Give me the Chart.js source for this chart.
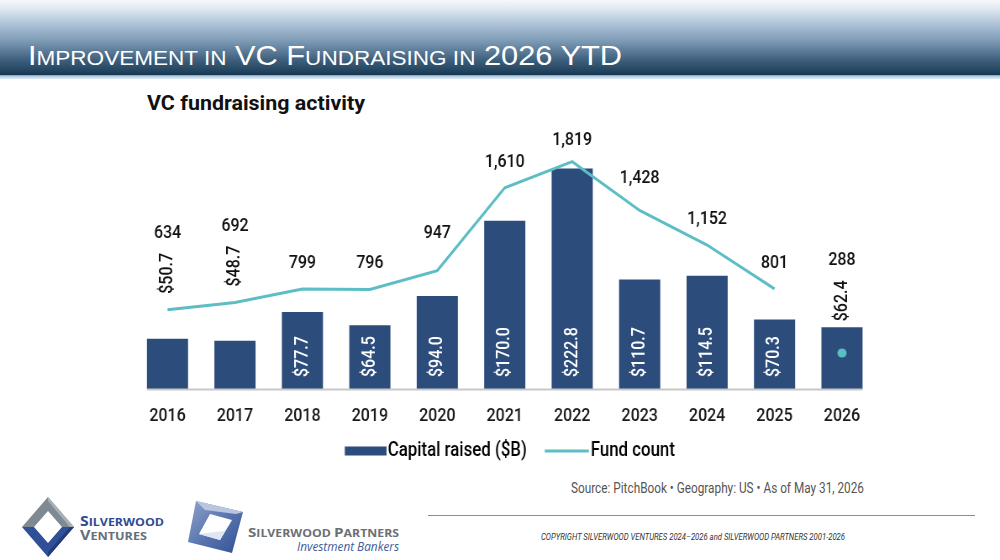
<!DOCTYPE html>
<html>
<head>
<meta charset="utf-8">
<script src="https://cdn.jsdelivr.net/npm/chart.js@4.4.1/dist/chart.umd.min.js"></script>
<style>
html,body{margin:0;padding:0;background:#fff;}
#wrap{position:relative;width:1000px;height:560px;overflow:hidden;background:#fff;}
#bg{position:absolute;left:0;top:0;}
#c{position:absolute;left:0;top:0;width:1190px;height:560px;transform:scaleX(0.840336);transform-origin:0 0;}
</style>
</head>
<body>
<div id="wrap">
<svg id="bg" width="1000" height="560" xmlns="http://www.w3.org/2000/svg">
  <defs>
    <linearGradient id="hdr" x1="0" y1="0" x2="0" y2="1">
      <stop offset="0" stop-color="#f6f8fb"/>
      <stop offset="0.12" stop-color="#e0e8f0"/>
      <stop offset="0.3" stop-color="#b3c7db"/>
      <stop offset="0.55" stop-color="#7e9bb6"/>
      <stop offset="0.8" stop-color="#41627f"/>
      <stop offset="1" stop-color="#1b3c56"/>
    </linearGradient>
    <linearGradient id="strip" x1="0" y1="0" x2="0" y2="1">
      <stop offset="0" stop-color="#9dbfdc"/>
      <stop offset="1" stop-color="#e6f0f8"/>
    </linearGradient>
    <linearGradient id="sp" x1="0" y1="0" x2="1" y2="1">
      <stop offset="0" stop-color="#8fa3cc"/>
      <stop offset="0.5" stop-color="#5a76b0"/>
      <stop offset="1" stop-color="#2f4f92"/>
    </linearGradient>
  </defs>
  <rect x="0" y="0" width="1000" height="74" fill="url(#hdr)"/>
  <rect x="0" y="74" width="1000" height="1.5" fill="#183852"/>
  <rect x="0" y="75.5" width="1000" height="3.5" fill="url(#strip)"/>
  <text x="28" y="64.5" fill="#ffffff" font-family="'Liberation Sans', Arial, sans-serif" textLength="594" lengthAdjust="spacingAndGlyphs"><tspan font-size="28">I</tspan><tspan font-size="20.5">MPROVEMENT IN</tspan><tspan font-size="28"> VC F</tspan><tspan font-size="20.5">UNDRAISING IN</tspan><tspan font-size="28"> 2026 YTD</tspan></text>
  <text x="147" y="110" fill="#111" font-family="Roboto, 'Liberation Sans', sans-serif" font-weight="700" font-size="21" textLength="218" lengthAdjust="spacingAndGlyphs">VC fundraising activity</text>

  <text x="571" y="493" fill="#555" font-family="Roboto, 'DejaVu Sans Condensed', sans-serif" font-size="14.5" textLength="293" lengthAdjust="spacingAndGlyphs">Source: PitchBook  •  Geography: US  •  As of May 31, 2026</text>
  <line x1="428" y1="515.5" x2="975" y2="515.5" stroke="#8c8c8c" stroke-width="1.2"/>
  <text x="541" y="540" fill="#333" font-family="Roboto, 'DejaVu Sans Condensed', sans-serif" font-style="italic" font-size="9" textLength="304" lengthAdjust="spacingAndGlyphs">COPYRIGHT SILVERWOOD VENTURES 2024–2026 and SILVERWOOD PARTNERS 2001-2026</text>

  <!-- Silverwood Ventures logo -->
  <polygon points="22,527 48,497 74,527 62,527 48,511 34,527" fill="#7f8992"/>
  <polygon points="48,497 74,527 70,527 48,501" fill="#a9b1b8"/>
  <polygon points="22,527 48,557 74,527 62,527 48,543 34,527" fill="#2f4f98"/>
  <polygon points="48,557 74,527 70,527 48,552" fill="#223c7a"/>
  <text x="80" y="526" fill="#2e4c94" font-family="'Open Sans', 'Liberation Sans', sans-serif" font-weight="700" textLength="84" lengthAdjust="spacingAndGlyphs"><tspan font-size="14">S</tspan><tspan font-size="11">ILVERWOOD</tspan></text>
  <text x="80" y="540" fill="#666e78" font-family="'Open Sans', 'Liberation Sans', sans-serif" font-weight="700" textLength="67" lengthAdjust="spacingAndGlyphs"><tspan font-size="14">V</tspan><tspan font-size="11">ENTURES</tspan></text>

  <!-- Silverwood Partners logo -->
  <polygon points="196,501 243,512 232,553 188,542" fill="url(#sp)"/>
  <polygon points="196,501 243,512 236,514 205,510" fill="#b9c6e0"/>
  <polygon points="210,514 232,520 220,540 199,534" fill="#ffffff"/>
  <polygon points="232,520 220,540 199,534 224,531" fill="#dfe6f2"/>
  <text x="248" y="537" fill="#6b7076" font-family="'Open Sans', 'Liberation Sans', sans-serif" font-weight="700" textLength="151" lengthAdjust="spacingAndGlyphs"><tspan font-size="13">S</tspan><tspan font-size="10.5">ILVERWOOD </tspan><tspan font-size="13">P</tspan><tspan font-size="10.5">ARTNERS</tspan></text>
  <text x="297" y="551" fill="#3d5a99" font-family="'Open Sans', 'Liberation Sans', sans-serif" font-style="italic" font-size="12" textLength="102" lengthAdjust="spacingAndGlyphs">Investment Bankers</text>
</svg>
<canvas id="c" width="1190" height="560"></canvas>
</div>
<script>
// ---- data ----
const years = ['2016','2017','2018','2019','2020','2021','2022','2023','2024','2025','2026'];
const capitalRaised = [50.7, 48.7, 77.7, 64.5, 94.0, 170.0, 222.8, 110.7, 114.5, 70.3, 62.4];
const fundCount = [634, 692, 799, 796, 947, 1610, 1819, 1428, 1152, 801, 288];
const seriesNames = ['Capital raised ($B)', 'Fund count'];

const NAVY = '#2c4c7c';
const TEAL = '#5cbec4';
const FONT = "Roboto, 'DejaVu Sans Condensed', sans-serif";
const WEIGHT = 500;
// canvas is drawn 1190 wide and shown 1000 wide (condensed text look)
const S = 1000 / 1190;
const COND = 0.84;

const last = fundCount.length - 1;
const lineData = fundCount.map((v, i) => (i < last ? v : null));
const dotData = fundCount.map((v, i) => (i === last ? v : null));

function swatch(w, h, x0, segW, segH, color) {
  const c = document.createElement('canvas');
  c.width = w; c.height = h;
  const g = c.getContext('2d');
  g.fillStyle = color;
  g.fillRect(x0, (h - segH) / 2, segW, segH);
  return c;
}
const barSwatch = swatch(71, 10, 20.9, 50, 9, NAVY);
const lineSwatch = swatch(69, 4, 16.3, 52.4, 3, TEAL);
const dotImg = (function () {
  const c = document.createElement('canvas');
  c.width = 12; c.height = 10;
  const g = c.getContext('2d');
  g.fillStyle = TEAL;
  g.beginPath();
  g.ellipse(6, 5, 4.6 / S, 4.6, 0, 0, Math.PI * 2);
  g.fill();
  return c;
})();

function drawRotated(ctx, text, x, y, color) {
  ctx.save();
  ctx.translate(x, y);
  ctx.rotate(-Math.PI / 2);
  ctx.scale(COND, 1 / S);
  ctx.fillStyle = color;
  ctx.textAlign = 'left';
  ctx.textBaseline = 'middle';
  ctx.fillText(text, 0, 0);
  ctx.restore();
}

const labelPlugin = {
  id: 'valueLabels',
  afterDatasetsDraw(chart, args, opts) {
    const ctx = chart.ctx;
    const barMeta = chart.getDatasetMeta(0);
    const yLine = chart.scales.y1;
    ctx.save();
    // baseline
    const first = barMeta.data[0], lastBar = barMeta.data[barMeta.data.length - 1];
    ctx.strokeStyle = '#c8c8c8';
    ctx.lineWidth = 2;
    ctx.beginPath();
    ctx.moveTo(first.x - first.width / 2, first.base + 0.5);
    ctx.lineTo(lastBar.x + lastBar.width / 2, lastBar.base + 0.5);
    ctx.stroke();

    ctx.font = WEIGHT + ' ' + opts.size + 'px ' + FONT;
    ctx.textBaseline = 'middle';
    barMeta.data.forEach((bar, i) => {
      const text = '$' + capitalRaised[i].toFixed(1);
      const countText = fundCount[i].toLocaleString('en-US');
      const len = ctx.measureText(text).width * COND;
      const base = bar.base, top = bar.y;
      const ptY = yLine.getPixelForValue(fundCount[i]);
      const pointInside = ptY > top && ptY < base;
      const fits = (base - top) - 12 >= len + 6 && !pointInside;
      let countY;
      if (fits) {
        drawRotated(ctx, text, bar.x, base - 12, '#ffffff');
        countY = ptY - 26 + ((opts.nudge && opts.nudge[i]) || 0);
      } else {
        const bottom = Math.min(top - 6, pointInside ? Infinity : ptY - 16);
        drawRotated(ctx, text, bar.x, bottom, '#111111');
        countY = bottom - len - 20;
      }
      ctx.fillStyle = '#111111';
      ctx.textAlign = 'center';
      ctx.textBaseline = 'middle';
      ctx.fillText(countText, bar.x, countY);
    });
    ctx.restore();
  }
};

new Chart(document.getElementById('c'), {
  type: 'bar',
  data: {
    labels: years,
    datasets: [
      {
        type: 'bar', label: seriesNames[0], data: capitalRaised,
        backgroundColor: NAVY, yAxisID: 'y', order: 2,
        categoryPercentage: 1.0, barPercentage: 0.61
      },
      {
        type: 'line', label: seriesNames[1], data: lineData,
        borderColor: TEAL, backgroundColor: TEAL, borderWidth: 3,
        pointRadius: 0, tension: 0, yAxisID: 'y1', order: 1, spanGaps: false
      },
      {
        type: 'line', label: 'Fund count 2026', data: dotData,
        showLine: false, pointRadius: 4.5, pointStyle: dotImg,
        pointBackgroundColor: TEAL, pointBorderWidth: 0, borderColor: TEAL,
        yAxisID: 'y1', order: 0
      }
    ]
  },
  options: {
    responsive: false,
    animation: false,
    devicePixelRatio: 1,
    layout: { padding: { left: 159.2, right: 147.9, top: 129, bottom: 89 } },
    scales: {
      x: {
        grid: { display: false, drawTicks: false },
        border: { display: false },
        ticks: { font: { family: FONT, size: 19, weight: WEIGHT }, color: '#1a1a1a', padding: 16, maxRotation: 0, autoSkip: false },
        afterFit(scale) { scale.height = 39; }
      },
      y: { display: false, min: 0, max: 262.6 },
      y1: { display: false, min: 0, max: 2080, position: 'right' }
    },
    plugins: {
      tooltip: { enabled: false },
      legend: {
        position: 'bottom',
        labels: {
          usePointStyle: true,
          pointStyleWidth: 53.2,
          padding: 13,
          color: '#111111',
          font: { family: FONT, size: 20, weight: WEIGHT },
          generateLabels(chart) {
            return [
              { text: chart.data.datasets[0].label, pointStyle: barSwatch, fillStyle: NAVY, strokeStyle: NAVY, lineWidth: 0, hidden: false, datasetIndex: 0 },
              { text: chart.data.datasets[1].label, pointStyle: lineSwatch, fillStyle: TEAL, strokeStyle: TEAL, lineWidth: 0, hidden: false, datasetIndex: 1 }
            ];
          }
        }
      },
      valueLabels: { size: 19, nudge: { 4: -11, 6: 5, 7: -6 } }
    }
  },
  plugins: [labelPlugin]
});
</script>
</body>
</html>
